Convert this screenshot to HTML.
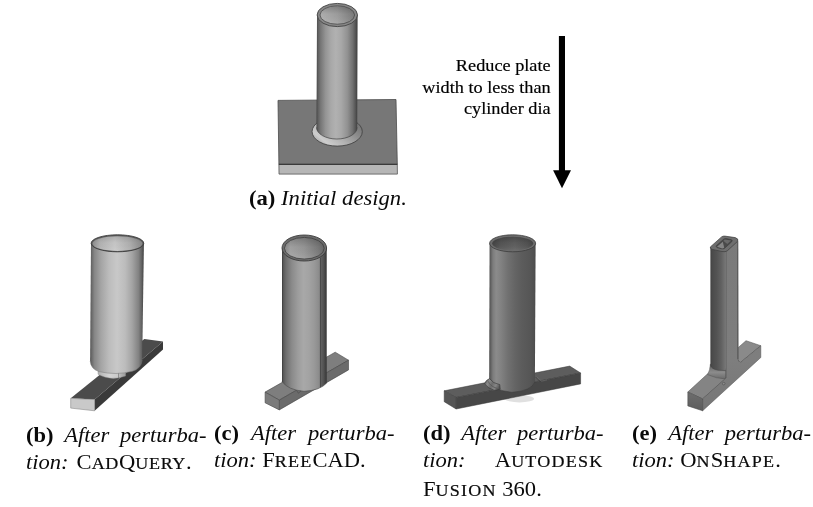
<!DOCTYPE html>
<html>
<head>
<meta charset="utf-8">
<style>
html,body{margin:0;padding:0;background:#fff;}
body{width:813px;height:507px;position:relative;overflow:hidden;font-family:"Liberation Serif",serif;color:#111;}
svg{position:absolute;left:0;top:0;}
.t{position:absolute;white-space:nowrap;will-change:transform;}
.note{font-size:16.6px;line-height:21.6px;text-align:right;right:262.4px;top:54.7px;color:#000;-webkit-text-stroke:0.18px #000;transform:scaleX(1.1);transform-origin:100% 0;}
.cap{will-change:transform;position:absolute;font-size:20.4px;line-height:27.4px;text-align:justify;white-space:normal;color:#0a0a0a;}
.cap b{font-weight:bold;font-style:normal;}
.cap i{font-style:italic;}
.sc{font-size:0.8em;letter-spacing:1.1px;-webkit-text-stroke:0.2px #0a0a0a;}
.w{letter-spacing:0;}
.l{display:block;text-align:justify;text-align-last:justify;white-space:nowrap;}
.ll{display:block;text-align:left;white-space:nowrap;}
</style>
</head>
<body>
<svg width="813" height="507" viewBox="0 0 813 507">
<defs>
<linearGradient id="gA" x1="0" x2="1" y1="0" y2="0">
<stop offset="0" stop-color="#3e3e3e"/><stop offset="0.03" stop-color="#5c5c5c"/><stop offset="0.1" stop-color="#767676"/><stop offset="0.22" stop-color="#949494"/><stop offset="0.35" stop-color="#a8a8a8"/><stop offset="0.47" stop-color="#b1b1b1"/><stop offset="0.6" stop-color="#a8a8a8"/><stop offset="0.75" stop-color="#929292"/><stop offset="0.88" stop-color="#707070"/><stop offset="0.96" stop-color="#505050"/><stop offset="1" stop-color="#3a3a3a"/>
</linearGradient>
<linearGradient id="gAi" x1="0" x2="1" y1="0" y2="0">
<stop offset="0" stop-color="#b4b4b4"/><stop offset="0.5" stop-color="#a2a2a2"/><stop offset="1" stop-color="#7e7e7e"/>
</linearGradient>

<linearGradient id="gB" x1="0" x2="1" y1="0" y2="0">
<stop offset="0" stop-color="#3c3c3c"/><stop offset="0.025" stop-color="#686868"/><stop offset="0.08" stop-color="#868686"/><stop offset="0.2" stop-color="#a4a4a4"/><stop offset="0.35" stop-color="#bcbcbc"/><stop offset="0.5" stop-color="#c8c8c8"/><stop offset="0.65" stop-color="#bcbcbc"/><stop offset="0.78" stop-color="#a4a4a4"/><stop offset="0.9" stop-color="#828282"/><stop offset="0.965" stop-color="#5e5e5e"/><stop offset="1" stop-color="#3a3a3a"/>
</linearGradient>
<linearGradient id="gBi" x1="0" x2="1" y1="0" y2="0">
<stop offset="0" stop-color="#8e8e8e"/><stop offset="0.15" stop-color="#b4b4b4"/><stop offset="0.45" stop-color="#cacaca"/><stop offset="0.75" stop-color="#b0b0b0"/><stop offset="1" stop-color="#888"/>
</linearGradient>
<linearGradient id="gC" x1="0" x2="1" y1="0" y2="0">
<stop offset="0" stop-color="#383838"/><stop offset="0.03" stop-color="#585858"/><stop offset="0.09" stop-color="#6e6e6e"/><stop offset="0.22" stop-color="#8a8a8a"/><stop offset="0.36" stop-color="#9d9d9d"/><stop offset="0.48" stop-color="#a8a8a8"/><stop offset="0.6" stop-color="#a3a3a3"/><stop offset="0.72" stop-color="#999"/><stop offset="0.855" stop-color="#888"/><stop offset="0.86" stop-color="#646464"/><stop offset="0.93" stop-color="#525252"/><stop offset="0.98" stop-color="#3e3e3e"/><stop offset="1" stop-color="#333"/>
</linearGradient>
<linearGradient id="gCi" x1="0" x2="1" y1="0" y2="0">
<stop offset="0" stop-color="#8a8a8a"/><stop offset="0.15" stop-color="#a6a6a6"/><stop offset="0.5" stop-color="#999"/><stop offset="0.85" stop-color="#7c7c7c"/><stop offset="1" stop-color="#6a6a6a"/>
</linearGradient>
<linearGradient id="gD" x1="0" x2="1" y1="0" y2="0">
<stop offset="0" stop-color="#484848"/><stop offset="0.03" stop-color="#606060"/><stop offset="0.08" stop-color="#7c7c7c"/><stop offset="0.15" stop-color="#8b8b8b"/><stop offset="0.25" stop-color="#828282"/><stop offset="0.4" stop-color="#717171"/><stop offset="0.55" stop-color="#656565"/><stop offset="0.7" stop-color="#5c5c5c"/><stop offset="0.88" stop-color="#565656"/><stop offset="0.97" stop-color="#505050"/><stop offset="1" stop-color="#444"/>
</linearGradient>
<linearGradient id="gDi" x1="0" x2="1" y1="0" y2="0">
<stop offset="0" stop-color="#444"/><stop offset="0.2" stop-color="#565656"/><stop offset="0.55" stop-color="#606060"/><stop offset="0.85" stop-color="#545454"/><stop offset="1" stop-color="#484848"/>
</linearGradient>
<linearGradient id="gE" x1="0" x2="1" y1="0" y2="0">
<stop offset="0" stop-color="#3e3e3e"/><stop offset="0.1" stop-color="#4a4a4a"/><stop offset="0.4" stop-color="#535353"/><stop offset="0.7" stop-color="#616161"/><stop offset="0.9" stop-color="#707070"/><stop offset="1" stop-color="#7a7a7a"/>
</linearGradient>
<linearGradient id="gAr" x1="0.05" x2="0.95" y1="0.9" y2="0.25">
<stop offset="0" stop-color="#9c9c9c"/><stop offset="0.18" stop-color="#cdcdcd"/><stop offset="0.45" stop-color="#b2b2b2"/><stop offset="0.75" stop-color="#8c8c8c"/><stop offset="1" stop-color="#747474"/>
</linearGradient>
<linearGradient id="gBn" x1="0" x2="1" y1="0" y2="0">
<stop offset="0" stop-color="#b0b0b0"/><stop offset="0.4" stop-color="#d4d4d4"/><stop offset="0.72" stop-color="#cacaca"/><stop offset="0.74" stop-color="#8a8a8a"/><stop offset="0.77" stop-color="#bdbdbd"/><stop offset="1" stop-color="#9a9a9a"/>
</linearGradient>
<linearGradient id="gCv" x1="0" x2="0" y1="0" y2="1">
<stop offset="0" stop-color="#000" stop-opacity="0.22"/><stop offset="0.45" stop-color="#000" stop-opacity="0.04"/><stop offset="1" stop-color="#fff" stop-opacity="0.08"/>
</linearGradient>
<linearGradient id="gDf" x1="0" x2="1" y1="0.2" y2="0.6">
<stop offset="0" stop-color="#5e5e5e"/><stop offset="0.25" stop-color="#8c8c8c"/><stop offset="0.5" stop-color="#6c6c6c"/><stop offset="0.75" stop-color="#868686"/><stop offset="1" stop-color="#555"/>
</linearGradient>
<linearGradient id="gEs" x1="0" x2="0" y1="0" y2="1">
<stop offset="0" stop-color="#7a7a7a"/><stop offset="0.7" stop-color="#7e7e7e"/><stop offset="1" stop-color="#767676"/>
</linearGradient>
<linearGradient id="gEe" x1="0" x2="0" y1="0" y2="1">
<stop offset="0" stop-color="#6e6e6e"/><stop offset="1" stop-color="#5c5c5c"/>
</linearGradient>
<linearGradient id="gEf" x1="0" x2="0" y1="0" y2="1">
<stop offset="0" stop-color="#5a5a5a"/><stop offset="0.55" stop-color="#8c8c8c"/><stop offset="1" stop-color="#6a6a6a"/>
</linearGradient>
</defs>

<!-- ===== (a) initial design ===== -->
<g id="shapeA">
<polygon points="278.9,164.3 397.3,164.3 397.4,174.1 279,174.1" fill="#b6b6b6" stroke="#555" stroke-width="0.8"/>
<polygon points="278,100.4 396,99.5 397.3,164.3 278.9,164.3" fill="#777" stroke="#4a4a4a" stroke-width="0.8"/>
<path d="M278.9,164.3 L397.3,164.3" stroke="#333" stroke-width="1" fill="none"/>
<ellipse cx="337.2" cy="131.6" rx="25.1" ry="14.5" fill="url(#gAr)" stroke="#3c3c3c" stroke-width="0.8"/>
<path d="M317,15 L316.5,127.4 A20.3,11.6 0 0 0 357.2,127.4 L357.6,15 Z" fill="url(#gA)"/>
<path d="M316.5,127.4 A20.3,11.6 0 0 0 357.2,127.4" fill="none" stroke="#444" stroke-width="0.7"/>
<ellipse cx="337.3" cy="15" rx="20.2" ry="11.6" fill="#878787" stroke="#444" stroke-width="0.9"/>
<ellipse cx="337.3" cy="15" rx="17.3" ry="9.2" fill="url(#gAi)" stroke="#484848" stroke-width="0.8"/>
<ellipse cx="337.3" cy="15" rx="16.9" ry="8.8" fill="url(#gCv)"/>
</g>

<!-- ===== arrow ===== -->
<rect x="558.9" y="36" width="6.1" height="136" fill="#000"/>
<polygon points="553.1,170.3 571,170.3 562,188.3" fill="#000"/>


<!-- ===== (b) CadQuery ===== -->
<g id="shapeB">
<polygon points="70.7,398.3 94.6,399.6 163,341.5 144.3,338.9" fill="#4b4b4b"/>
<polygon points="94.6,399.6 94.6,410.8 163,349.5 163,341.5" fill="#3a3a3a"/>
<polygon points="70.7,398.3 94.6,399.6 94.6,410.8 70.7,408.1" fill="#c9c9c9" stroke="#777" stroke-width="0.5"/>
<path d="M98,368 L98,374.3 Q111,381.5 125.6,376 L125.6,368 Z" fill="url(#gBn)" stroke="#888" stroke-width="0.4"/>
<path d="M91,243.3 L90.2,361 Q90.8,369 99,371.6 Q116,375.6 132.5,371.2 Q141.3,368.6 142.2,360 L143.9,243.3 Z" fill="url(#gB)"/>
<path d="M90.2,361 Q90.8,369 99,371.6 Q116,375.6 132.5,371.2 Q141.3,368.6 142.2,360" fill="none" stroke="#777" stroke-width="0.5"/>
<ellipse cx="117.45" cy="243.3" rx="26.3" ry="8.5" fill="#5c5c5c" stroke="#3c3c3c" stroke-width="0.9"/>
<ellipse cx="117.45" cy="243.6" rx="24.9" ry="7.3" fill="url(#gBi)"/>
<ellipse cx="117.45" cy="243.6" rx="24.9" ry="7.3" fill="url(#gCv)" opacity="0.6"/>
</g>

<!-- ===== (c) FreeCAD ===== -->
<g id="shapeC" stroke-linejoin="round">
<polygon points="265.1,392.1 279.3,400.1 348.5,360.2 335.2,352.2" fill="#7e7e7e" stroke="#444" stroke-width="0.6"/>
<polygon points="279.3,400.1 279.3,409.9 348.5,369.9 348.5,360.2" fill="#6b6b6b" stroke="#444" stroke-width="0.6"/>
<polygon points="265.1,392.1 279.3,400.1 279.3,409.9 265.1,402.8" fill="#7b7b7b" stroke="#444" stroke-width="0.6"/>
<path d="M282,248 L282,381.5 Q288,390 304,391.3 Q320,390.5 326.7,383 L326.7,248 Z" fill="url(#gC)"/>
<path d="M320.4,258 L320.4,387.3" stroke="#3c3c3c" stroke-width="0.7" fill="none"/>
<path d="M282,381.5 Q288,390 304,391.3 Q320,390.5 326.7,383" stroke="#4a4a4a" stroke-width="0.6" fill="none"/>
<path d="M296.5,390.2 L298.3,393.2 L301,391" fill="#6b6b6b" stroke="#444" stroke-width="0.5"/>
<ellipse cx="304.3" cy="248" rx="22.3" ry="13" fill="#6c6c6c" stroke="#3c3c3c" stroke-width="0.9"/>
<ellipse cx="304.3" cy="248.2" rx="19.9" ry="10.8" fill="url(#gCi)" stroke="#3e3e3e" stroke-width="0.8"/>
<ellipse cx="304.3" cy="248.2" rx="19.5" ry="10.4" fill="url(#gCv)"/>
</g>

<!-- ===== (d) Fusion 360 ===== -->
<g id="shapeD" stroke-linejoin="round">
<ellipse cx="519.5" cy="398.8" rx="14.5" ry="3.6" fill="#e0e0e0"/>
<polygon points="444.2,390.8 456.1,397.5 580.6,373 569.7,366.1" fill="#5d5d5d" stroke="#3a3a3a" stroke-width="0.5"/>
<polygon points="456.1,397.5 456.1,409 580.6,383.9 580.6,373" fill="#474747" stroke="#3a3a3a" stroke-width="0.5"/>
<polygon points="444.2,390.8 456.1,397.5 456.1,409 444.2,401.7" fill="#555" stroke="#3a3a3a" stroke-width="0.5"/>
<path d="M535.6,377 L540,381.6" stroke="#3a3a3a" stroke-width="0.6" fill="none"/>
<path d="M536.6,376.6 L541.5,381.2 L547,380" stroke="#777" stroke-width="0.5" fill="none"/>
<path d="M489.6,243.3 L489.2,381 Q491.6,390 511.8,392.3 Q531.4,391 534.9,382 L535.6,243.3 Z" fill="url(#gD)"/>
<path d="M489.2,381 Q491.6,390 511.8,392.3 Q531.4,391 534.9,382" fill="none" stroke="#3a3a3a" stroke-width="0.5"/>
<path d="M489.5,378.6 Q485.3,380.6 484.6,383.8 Q488,388.6 494.6,390.4 L500.2,389.2 L499.8,384.6 Q493,383.6 489.5,378.6 Z" fill="url(#gDf)" stroke="#353535" stroke-width="0.6"/>
<path d="M488.4,381.4 Q489.5,386 497.5,388.6" fill="none" stroke="#505050" stroke-width="0.7"/>
<ellipse cx="512.6" cy="243.3" rx="23" ry="8.5" fill="#6c6c6c" stroke="#3c3c3c" stroke-width="0.8"/>
<ellipse cx="512.7" cy="243.6" rx="20.5" ry="6.8" fill="url(#gDi)"/>
<ellipse cx="512.7" cy="243.6" rx="20.5" ry="6.8" fill="url(#gCv)"/>
</g>

<!-- ===== (e) Onshape ===== -->
<g id="shapeE" stroke-linejoin="round">
<!-- right bar top face -->
<polygon points="737.5,348.2 746,340.7 760.8,345.7 740.5,362.4 737.5,360.5" fill="#8a8a8a" stroke="#4a4a4a" stroke-width="0.5"/>
<!-- left bar top face -->
<polygon points="687.8,392 702.6,398.9 726.4,378 708.5,373" fill="#848484" stroke="#4a4a4a" stroke-width="0.5"/>
<!-- fillet -->
<path d="M710.4,364 Q710,370 707.6,374.6 Q716,378.6 725.9,379 L725.9,369 Z" fill="url(#gEf)" stroke="#4a4a4a" stroke-width="0.4"/>
<!-- side face incl column flat face -->
<path d="M725.9,251.4 L737.9,240.8 L738.1,359.6 Q738.6,362.6 740.6,362.4 L760.8,345.7 L760.8,357.5 L702.6,410.8 L702.6,398.9 L725.9,378 Z" fill="url(#gEs)" stroke="#4a4a4a" stroke-width="0.5"/>
<!-- end face -->
<polygon points="687.8,392 702.6,398.9 702.6,410.8 687.8,405.9" fill="url(#gEe)" stroke="#444" stroke-width="0.5"/>
<!-- rounded column face -->
<path d="M710.4,247 L710.4,365 Q711.5,369.2 718,370.2 L725.9,370.6 L725.9,251 Z" fill="url(#gE)"/>
<path d="M710.4,365 Q711.5,369.2 718,370.2 L725.9,370.6" fill="none" stroke="#444" stroke-width="0.5"/>
<path d="M725.9,252 L725.9,378" stroke="#5a5a5a" stroke-width="0.4" fill="none"/>
<path d="M737.6,241.5 L737.8,359" stroke="#555" stroke-width="1.1" fill="none" opacity="0.8"/>
<circle cx="723.7" cy="383.6" r="1.3" fill="#8c8c8c" stroke="#444" stroke-width="0.5"/>
<!-- top face -->
<path d="M710.3,247 L721.6,236.9 Q722.9,235.9 724.8,236.1 L735.2,237.6 Q738.9,238.8 737.7,241.2 L727.2,250.9 Q725.4,252.2 722,251.5 L712.3,249.4 Q710,248.6 710.3,247 Z" fill="#6e6e6e" stroke="#3e3e3e" stroke-width="0.7"/>
<path d="M716.3,245.8 L723.8,239.1 Q724.9,238.3 726.4,238.6 L731.6,239.8 Q732.8,240.6 731.7,241.8 L724.4,248.4 Q723.2,249.2 721.6,248.8 L717,247.6 Q715.8,246.9 716.3,245.8 Z" fill="#4a4a4a" stroke="#3a3a3a" stroke-width="0.6"/>
<path d="M717,246.8 L722.8,241.8 L724.2,247.8 Q723.2,248.7 721.6,248.3 Z" fill="#858585"/>
<path d="M724.5,239.4 L731,240.6 L727.4,244 L723.5,241 Z" fill="#6a6a6a"/>
</g>
<!--SHAPES-->
</svg>

<div class="t note">Reduce plate<br>width to less than<br>cylinder dia</div>

<div class="t" style="left:249.3px;top:184.3px;font-size:21px;line-height:28px;color:#0a0a0a;transform:scaleX(1.078);transform-origin:0 0;"><b>(a)</b> <i>Initial design.</i></div>

<div class="cap" style="left:26px;top:421.9px;width:163.3px;transform:scaleX(1.105);transform-origin:0 0;"><span class="l"><b>(b)</b> <i>After perturba-</i></span><span class="ll"><i>tion:</i> <span class="w" style="margin-left:2.2px">C<span class="sc" style="letter-spacing:0.6px">AD</span>Q<span class="sc" style="letter-spacing:0.6px">UERY</span>.</span></span></div>
<div class="cap" style="left:213.7px;top:419.5px;width:163.3px;transform:scaleX(1.105);transform-origin:0 0;"><span class="l"><b>(c)</b> <i>After perturba-</i></span><span class="ll"><i>tion:</i> <span class="w">F<span class="sc">REE</span>CAD.</span></span></div>
<div class="cap" style="left:423.4px;top:419.5px;width:163.3px;transform:scaleX(1.105);transform-origin:0 0;"><span class="l"><b>(d)</b> <i>After perturba-</i></span><span class="l"><i>tion:</i> <span class="w">A<span class="sc">UTODESK</span></span></span><span class="ll"><span class="w">F<span class="sc">USION</span> 360.</span></span></div>
<div class="cap" style="left:632.2px;top:419.5px;width:162.0px;transform:scaleX(1.105);transform-origin:0 0;"><span class="l"><b>(e)</b> <i>After perturba-</i></span><span class="ll"><i>tion:</i> <span class="w">O<span class="sc">N</span>S<span class="sc">HAPE</span>.</span></span></div>
<!--CAPTIONS-->
</body>
</html>
